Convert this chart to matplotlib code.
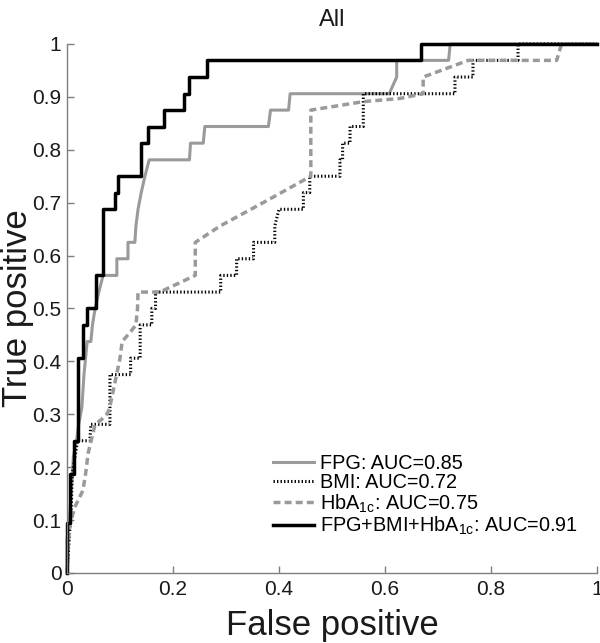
# Curvas ROC (All): FPG, BMI, HbA1c y combinación
import matplotlib
matplotlib.use("Agg")  # sin pantalla
import matplotlib.pyplot as plt

plt.rcParams['font.family'] = ['Liberation Sans', 'DejaVu Sans']
plt.rcParams['mathtext.default'] = 'regular'

# ----------- Colores -------------
GRIS = "#9a9a9a"
NEGRO = "#000000"
EJES = "#7f7f7f"
TEXTO = "#1a1a1a"

# ----------- Datos (vértices) ---------------------------------
FPG_FP = [0, 0, 0.004, 0.008, 0.012, 0.018, 0.022, 0.028, 0.030, 0.032, 0.035,
          0.038, 0.045, 0.048, 0.053, 0.060, 0.068, 0.094, 0.094, 0.115, 0.115,
          0.128, 0.130, 0.134, 0.140, 0.147, 0.155, 0.231, 0.233, 0.257, 0.260,
          0.380, 0.384, 0.418, 0.421, 0.608, 0.622, 0.622, 0.720, 0.723, 1]
FPG_TP = [0, 0.0625, 0.094, 0.156, 0.219, 0.25, 0.281, 0.3125, 0.344, 0.375, 0.406,
          0.4375, 0.4375, 0.469, 0.5, 0.531, 0.5625, 0.5625, 0.594, 0.594, 0.625,
          0.625, 0.656, 0.6875, 0.719, 0.75, 0.781, 0.781, 0.8125, 0.8125, 0.844,
          0.844, 0.875, 0.875, 0.906, 0.906, 0.9375, 0.969, 0.969, 1, 1]

BMI_FP = [0, 0.004, 0.008, 0.010, 0.015, 0.020, 0.043, 0.045, 0.081, 0.081, 0.120,
          0.120, 0.138, 0.138, 0.160, 0.160, 0.167, 0.167, 0.290, 0.290, 0.320,
          0.320, 0.352, 0.352, 0.392, 0.392, 0.400, 0.446, 0.446, 0.458, 0.458,
          0.515, 0.515, 0.520, 0.520, 0.534, 0.534, 0.559, 0.559, 0.732, 0.732,
          0.766, 0.766, 0.851, 0.851, 1]
BMI_TP = [0, 0.0625, 0.125, 0.1875, 0.219, 0.25, 0.25, 0.281, 0.281, 0.375, 0.375,
          0.406, 0.406, 0.469, 0.469, 0.5, 0.5, 0.531, 0.531, 0.5625, 0.5625,
          0.594, 0.594, 0.625, 0.625, 0.656, 0.6875, 0.6875, 0.719, 0.719, 0.75,
          0.75, 0.781, 0.781, 0.8125, 0.8125, 0.844, 0.844, 0.906, 0.906, 0.9375,
          0.9375, 0.969, 0.969, 1, 1]

HBA_FP = [0, 0.003, 0.006, 0.015, 0.030, 0.035, 0.040, 0.048, 0.053, 0.065, 0.075,
          0.080, 0.087, 0.100, 0.104, 0.120, 0.130, 0.133, 0.134, 0.175, 0.242,
          0.242, 0.289, 0.370, 0.460, 0.460, 0.559, 0.628, 0.672, 0.672, 0.757,
          0.924, 0.933, 1]
HBA_TP = [0, 0.0625, 0.094, 0.125, 0.156, 0.1875, 0.227, 0.26, 0.281, 0.29, 0.30,
          0.31, 0.344, 0.406, 0.4375, 0.456, 0.469, 0.5, 0.531, 0.531, 0.5625,
          0.625, 0.656, 0.70, 0.75, 0.875, 0.891, 0.897, 0.906, 0.9375, 0.969,
          0.969, 1, 1]

COMB_FP = [0, 0, 0.005, 0.005, 0.013, 0.013, 0.020, 0.020, 0.030, 0.030, 0.037,
           0.037, 0.055, 0.055, 0.068, 0.068, 0.090, 0.090, 0.097, 0.097, 0.139,
           0.139, 0.152, 0.152, 0.183, 0.183, 0.221, 0.221, 0.231, 0.231, 0.264,
           0.264, 0.668, 0.668, 1]
COMB_TP = [0, 0.094, 0.094, 0.1875, 0.1875, 0.25, 0.25, 0.406, 0.406, 0.469, 0.469,
           0.5, 0.5, 0.5625, 0.5625, 0.6875, 0.6875, 0.719, 0.719, 0.75, 0.75,
           0.8125, 0.8125, 0.844, 0.844, 0.875, 0.875, 0.906, 0.906, 0.9375, 0.9375,
           0.969, 0.969, 1, 1]

ETIQUETAS = ['FPG: AUC=0.85', 'BMI: AUC=0.72', 'HbA$_{1c}$: AUC=0.75',
             'FPG+BMI+HbA$_{1c}$: AUC=0.91']

X_TICKS = [0, 0.2, 0.4, 0.6, 0.8, 1]
X_LABELS = ['0', '0.2', '0.4', '0.6', '0.8', '1']
Y_TICKS = [0, 0.1, 0.2, 0.3, 0.4, 0.5, 0.6, 0.7, 0.8, 0.9, 1]
Y_LABELS = ['0', '0.1', '0.2', '0.3', '0.4', '0.5', '0.6', '0.7', '0.8', '0.9', '1']


fig = plt.figure(figsize=(6, 6.43), dpi=100)
ax = fig.add_axes([0.1117, 0.1089, 0.8833, 0.8227])

ax.plot(FPG_FP, FPG_TP, color=GRIS, lw=2.2, label=ETIQUETAS[0], clip_on=False)
ax.plot(BMI_FP, BMI_TP, color=NEGRO, lw=2.2, linestyle=(0, (0.45, 0.7)),
        dash_capstyle='butt', label=ETIQUETAS[1], clip_on=False)
ax.plot(HBA_FP, HBA_TP, color=GRIS, lw=2.5, linestyle=(0, (2.0, 1.2)),
        dash_capstyle='butt', label=ETIQUETAS[2], clip_on=False)
ax.plot(COMB_FP, COMB_TP, color=NEGRO, lw=2.5, label=ETIQUETAS[3], clip_on=False)

ax.set_xlim(0, 1)
ax.set_ylim(0, 1)
ax.set_xticks(X_TICKS, X_LABELS)
ax.set_yticks(Y_TICKS, Y_LABELS)

for lado in ['top', 'right']:
    ax.spines[lado].set_visible(False)
for lado in ['left', 'bottom']:
    ax.spines[lado].set_color(EJES)
    ax.spines[lado].set_linewidth(1)

ax.tick_params(direction='in', length=5, width=1, color=EJES,
               labelcolor=TEXTO, labelsize=15)
ax.tick_params(axis='x', pad=5)
ax.tick_params(axis='y', pad=4)

ax.set_xlabel('False positive', fontsize=25, color=TEXTO)
ax.set_ylabel('True positive', fontsize=25, color=TEXTO)
ax.xaxis.set_label_coords(0.5, -0.068)
ax.yaxis.set_label_coords(-0.062, 0.5)
ax.set_title('All', fontsize=17, color=TEXTO, pad=13)

ax.legend(loc='lower left', bbox_to_anchor=(0.388, 0.068), frameon=False,
          fontsize=14.3, handlelength=2.1, handletextpad=0.3, labelspacing=0.0,
          borderpad=0, borderaxespad=0)

fig.savefig('out.png', dpi=100)
plt.close()
